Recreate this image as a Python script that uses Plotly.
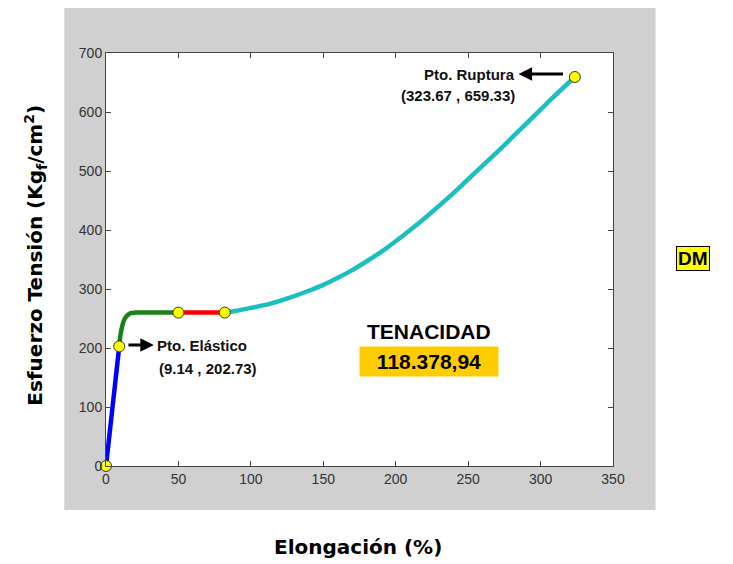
import plotly.graph_objects as go

# Stress-strain curve segments (elongation %, stress kgf/cm2)
elastic_x = [0, 2.0, 4.0, 6.0, 9.14]
elastic_y = [0, 44, 88, 133, 202.73]

yield_x = [9.14, 10.0, 11.5, 13.0, 15.0, 17.0, 20.0, 30.0, 40.0, 50.0]
yield_y = [202.73, 222, 240, 250, 256, 259, 260, 260, 260, 260]

plateau_x = [50.0, 60.0, 70.0, 82.0]
plateau_y = [260, 260, 260, 260]

harden_x = [82.0, 90, 100, 110, 120, 130, 140, 150, 160, 170, 180, 190, 200,
            210, 220, 230, 240, 250, 260, 270, 280, 290, 300, 310, 323.67]
harden_y = [260, 263, 268, 273, 280, 288, 297, 307, 319, 332, 347, 363, 381,
            400, 420, 441, 463, 486, 509, 532, 556, 580, 604, 628, 659.33]

# Highlighted points
key_x = [0, 9.14, 50.0, 82.0, 323.67]
key_y = [0, 202.73, 260, 260, 659.33]

elastic_pt = (9.14, 202.73)
rupture_pt = (323.67, 659.33)
toughness_label = "TENACIDAD"
toughness_value = "118.378,94"

x_ticks = [0, 50, 100, 150, 200, 250, 300, 350]
y_ticks = [0, 100, 200, 300, 400, 500, 600, 700]

LW = 4.5
fig = go.Figure()
fig.add_trace(go.Scatter(x=elastic_x, y=elastic_y, mode="lines",
                         line=dict(color="#0000FF", width=LW), cliponaxis=False))
fig.add_trace(go.Scatter(x=yield_x, y=yield_y, mode="lines",
                         line=dict(color="#1A801A", width=LW, shape="spline"),
                         cliponaxis=False))
fig.add_trace(go.Scatter(x=plateau_x, y=plateau_y, mode="lines",
                         line=dict(color="#FF0000", width=LW), cliponaxis=False))
fig.add_trace(go.Scatter(x=harden_x, y=harden_y, mode="lines",
                         line=dict(color="#1CBFBF", width=LW, shape="spline", smoothing=0.6),
                         cliponaxis=False))
fig.add_trace(go.Scatter(x=key_x, y=key_y, mode="markers",
                         marker=dict(color="#FFFF00", size=11,
                                     line=dict(color="#333333", width=1)),
                         cliponaxis=False))

lbl_font = dict(family="Liberation Sans, Arial, sans-serif", size=15, color="#111111")
arrow_style = dict(showarrow=True, arrowside="start", startarrowhead=2, startarrowsize=0.9,
                   arrowwidth=3, arrowcolor="#000000", startstandoff=2)

annotations = [
    # rupture point: label with an arrow running from the marker to it
    dict(x=315.5, y=rupture_pt[1] + 5, ax=251, ay=rupture_pt[1] + 5,
         xref="x", yref="y", axref="x", ayref="y",
         text="<b>Pto. Ruptura</b>", font=lbl_font, **arrow_style),
    dict(x=284, y=rupture_pt[1] - 32, xref="x", yref="y", xanchor="right", yanchor="middle",
         text="<b>(%.2f , %.2f)</b>" % rupture_pt, showarrow=False, font=lbl_font),
    # elastic point: label with an arrow running from the marker to it
    dict(x=15.5, y=205, ax=66.5, ay=205,
         xref="x", yref="y", axref="x", ayref="y",
         text="<b>Pto. Elástico</b>", font=lbl_font, **arrow_style),
    dict(x=35, y=166, xref="x", yref="y", xanchor="left", yanchor="middle",
         text="<b>(%.2f , %.2f)</b>" % elastic_pt, showarrow=False, font=lbl_font),
    # toughness
    dict(x=223, y=228, xref="x", yref="y", text="<b>%s</b>" % toughness_label,
         showarrow=False, font=dict(family="Liberation Sans, Arial, sans-serif",
                                    size=21, color="#000000")),
    dict(x=223, y=177, xref="x", yref="y", text="<b>%s</b>" % toughness_value,
         showarrow=False, bgcolor="#FFCC00", width=138, height=29, borderpad=0,
         font=dict(family="Liberation Sans, Arial, sans-serif", size=21, color="#000000")),
    # DM badge
    dict(x=1.1914, y=0.5036, xref="paper", yref="paper", text="<b>DM</b>",
         showarrow=False, bgcolor="#FFFF00", bordercolor="#000000", borderwidth=1,
         borderpad=1, font=dict(family="Liberation Sans, Arial, sans-serif",
                                size=19, color="#000000")),
    # axis titles
    dict(x=0.498, y=-0.23, xref="paper", yref="paper", text="<b>Elongación (%)</b>",
         showarrow=False, font=dict(family="DejaVu Sans, sans-serif", size=20, color="#000000")),
    dict(x=-0.172, y=0.51, xref="paper", yref="paper", textangle=-90,
         text="<b>Esfuerzo Tensión (Kg<sub>f</sub>/cm<sup>2</sup>)</b>",
         showarrow=False, font=dict(family="DejaVu Sans, sans-serif", size=20, color="#000000")),
]

shapes = [
    dict(type="rect", xref="paper", yref="paper", x0=-0.0823, x1=1.0839,
         y0=-0.1065, y1=1.109, fillcolor="#D0D0D0", line=dict(width=0), layer="below"),
    dict(type="rect", xref="paper", yref="paper", x0=0, x1=1, y0=0, y1=1,
         fillcolor="#FFFFFF", line=dict(width=0), layer="below"),
]

tick_font = dict(family="Liberation Sans Narrow, Arial Narrow, sans-serif", size=14,
                 color="#333333")
axis_common = dict(showgrid=False, zeroline=False, showline=True, mirror="ticks",
                   linecolor="#444444", linewidth=1, ticks="inside", ticklen=5,
                   tickcolor="#444444", tickfont=tick_font)

fig.update_layout(
    width=733, height=564,
    margin=dict(l=106, r=120, t=53, b=98),
    paper_bgcolor="#FFFFFF", plot_bgcolor="#FFFFFF",
    showlegend=False,
    xaxis=dict(range=[0, 350], tickvals=x_ticks, **axis_common),
    yaxis=dict(range=[0, 700], tickvals=y_ticks, **axis_common),
    annotations=annotations, shapes=shapes,
)

fig.write_html("out.html")
